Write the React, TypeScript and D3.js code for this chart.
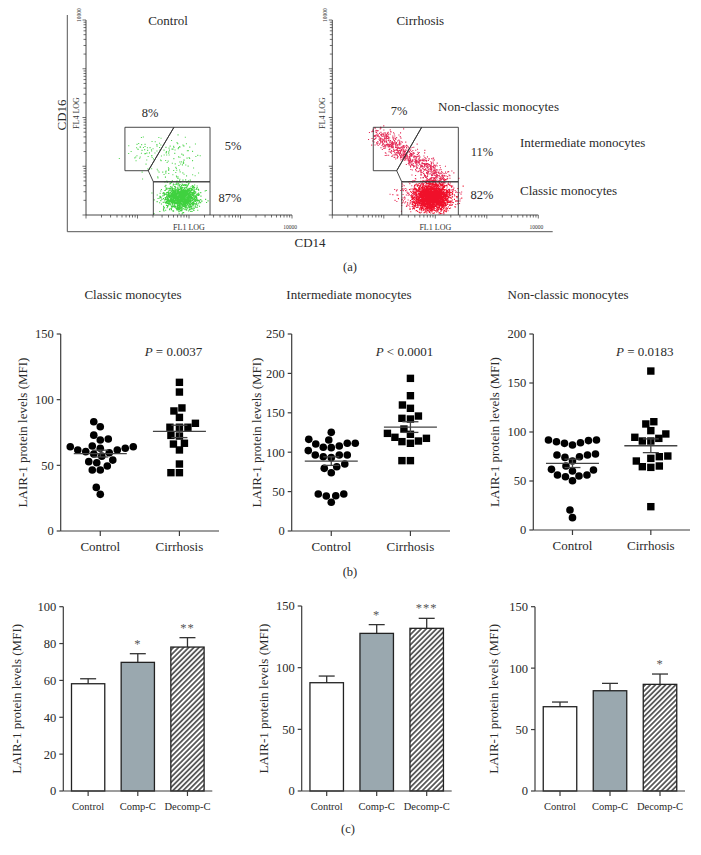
import React, { useMemo } from 'react';
import * as d3 from 'd3';

const SERIF = '"Liberation Serif", "Times New Roman", "DejaVu Serif", serif';
const INK = '#2a2a2a';
const AXIS = '#3c3c3c';

// ---------------- (a) flow cytometry ----------------
// gate vertices (FL1 values): box left, divider top, box right, kink, classic-gate left
const controlGateX = [5.7, 51, 256, 16.2, 20.3];
// gate vertices (FL4 values): top, kink, classic-gate top
const controlGateY = [63, 8.1, 4.8];
const cirrhosisGateX = [6.25, 54.4, 280, 17.8, 22.3];
const cirrhosisGateY = [63, 8.1, 4.8];
const controlPercents = ['8%', '5%', '87%'];
const cirrhosisPercents = ['7%', '11%', '82%'];
const subsetNames = ['Non-classic monocytes', 'Intermediate monocytes', 'Classic monocytes'];

// event clouds, in decades: centre x, centre y, sd x, sd y, count, (optional end of band x2,y2), colour
type Cluster = { x: number; y: number; sx: number; sy: number; n: number; x2?: number; y2?: number; c: string };
const controlClusters: Cluster[] = [
  { x: 1.84, y: 0.37, sx: 0.16, sy: 0.13, n: 1500, c: '#3fd13f' },
  { x: 1.7, y: 1.12, sx: 0.24, sy: 0.25, n: 120, c: '#5ad85a' },
  { x: 1.12, y: 1.3, sx: 0.16, sy: 0.13, n: 50, c: '#5ad85a' },
];
const cirrhosisClusters: Cluster[] = [
  { x: 1.85, y: 0.42, sx: 0.26, sy: 0.18, n: 600, c: '#e8305a' },
  { x: 0.85, y: 1.66, x2: 2.15, y2: 0.74, sx: 0.1, sy: 0.1, n: 850, c: '#e42c58' },
  { x: 1.92, y: 0.37, sx: 0.16, sy: 0.13, n: 2400, c: '#f0102a' },
];

// ---------------- (b) scatter plots ----------------
const scatterGroups = ['Control', 'Cirrhosis'];
const classicControl = [83.2, 79.4, 73, 70, 69.3, 64.7, 64.2, 63, 61.7, 59.6, 57, 58.6, 60.4, 61.7, 63, 64.2, 54, 52, 49.5, 52.8, 46.4, 46.4, 33.2, 27.9];
const classicCirrhosis = [113.2, 105.8, 93.7, 91.4, 86.5, 82, 79, 79, 79, 72.3, 72.8, 66.8, 66.2, 61.7, 51, 44.4, 44.4];
const intermediateControl = [125.2, 116.3, 111.3, 110.4, 107.9, 111.3, 115.5, 105.8, 106.2, 102, 96.4, 96.4, 93.1, 94.3, 96.4, 85, 79.5, 74, 81.6, 47, 44.4, 44.8, 47, 36.4];
const intermediateCirrhosis = [193.7, 171.7, 159.9, 155.7, 145.9, 143, 142.1, 129.4, 122.7, 123.9, 117.6, 118.9, 113.4, 111.3, 114.2, 89.3, 89.3];
const nonClassicControl = [91.8, 90.1, 88.4, 86.7, 89.1, 91.2, 91.8, 77.6, 76.5, 74.1, 74.8, 76.5, 70.4, 65.3, 61.9, 60.2, 56.1, 54.4, 50.3, 55.1, 56.1, 61.2, 20.4, 12.6];
const nonClassicCirrhosis = [162.2, 110.5, 108.2, 98, 101.4, 93.5, 90.8, 90.8, 94.6, 74.8, 70.4, 64.6, 63.9, 65.3, 73.1, 75.5, 23.8];
const subsetTitles = ['Classic monocytes', 'Intermediate monocytes', 'Non-classic monocytes'];
const pValues = ['= 0.0037', '< 0.0001', '= 0.0183'];
const scatterMax = [150, 250, 200];

// ---------------- (c) bar charts ----------------
const barGroups = ['Control', 'Comp-C', 'Decomp-C'];
const classicBarMeans = [58.2, 69.8, 78.1];
const classicBarSem = [2.7, 4.7, 5.1];
const classicStars = ['', '*', '**'];
const intermediateBarMeans = [87.8, 127.8, 131.9];
const intermediateBarSem = [5.4, 7.1, 8.1];
const intermediateStars = ['', '*', '***'];
const nonClassicBarMeans = [68.6, 81.6, 86.8];
const nonClassicBarSem = [3.8, 6.0, 8.4];
const nonClassicStars = ['', '', '*'];
const barMax = [100, 150, 150];
const barStep = [20, 50, 50];

const Y_LABEL = 'LAIR-1 protein levels (MFI)';

function makeDots(clusters: Cluster[], seed: number) {
  const rng = d3.randomLcg(seed);
  const normal = d3.randomNormal.source(rng)(0, 1);
  return clusters.map((c) => {
    const pts: [number, number][] = [];
    for (let i = 0; i < c.n; i++) {
      let bx = c.x, by = c.y;
      if (c.x2 !== undefined && c.y2 !== undefined) {
        const t = rng();
        bx = c.x + (c.x2 - c.x) * t;
        by = c.y + (c.y2 - c.y) * t;
      }
      const lx = bx + normal() * c.sx;
      const ly = by + normal() * c.sy;
      if (lx < 0.03 || ly < 0.03 || lx > 3.97 || ly > 3.97) continue;
      pts.push([Math.pow(10, lx), Math.pow(10, ly)]);
    }
    return { color: c.c, pts };
  });
}

function FlowPlot({ x0, title, gx, gy, clusters, seed, percents, pctPos, labelX }: any) {
  const xs = d3.scaleLog().domain([1, 10000]).range([x0, x0 + 206]);
  const ys = d3.scaleLog().domain([1, 10000]).range([215, 20]);
  const dots = useMemo(() => makeDots(clusters, seed), [clusters, seed]);
  const ticks = xs.ticks();
  const isMajor = (v: number) => Math.abs(Math.log10(v) - Math.round(Math.log10(v))) < 1e-9;
  const [bl, dt, br, kk, cl] = gx;
  const [top, mid, ct] = gy;
  const nonClassic = [[bl, top], [dt, top], [kk, mid], [bl, mid]];
  const inter = [[dt, top], [br, top], [br, ct], [cl, ct], [kk, mid]];
  const classic = [[cl, 1], [cl, ct], [br, ct], [br, 1]];
  const poly = (p: number[][], close = true) =>
    'M' + p.map(([a, b]) => `${xs(a)},${ys(b)}`).join('L') + (close ? 'Z' : '');
  return (
    <g>
      {dots.map((d, i) => (
        <path
          key={i}
          fill={d.color}
          d={d.pts.map(([a, b]) => `M${xs(a).toFixed(1)},${ys(b).toFixed(1)}h1.1v1.1h-1.1z`).join('')}
        />
      ))}
      <g fill="none" stroke="#333" strokeWidth={0.9}>
        <path d={poly(nonClassic)} />
        <path d={poly(inter)} />
        <path d={poly(classic, false)} />
      </g>
      <line x1={x0} x2={x0} y1={ys(10000)} y2={ys(1)} stroke="#333" strokeWidth={0.9} />
      <line x1={x0} x2={x0 + 206} y1={ys(1)} y2={ys(1)} stroke="#333" strokeWidth={0.9} />
      {ticks.map((t, i) => (
        <line key={'xt' + i} x1={xs(t)} x2={xs(t)} y1={ys(1)} y2={ys(1) + (isMajor(t) ? 3.5 : 2.5)} stroke="#333" strokeWidth={0.7} />
      ))}
      {ys.ticks().map((t, i) => (
        <line key={'yt' + i} x1={x0} x2={x0 - (isMajor(t) ? 3.5 : 2.5)} y1={ys(t)} y2={ys(t)} stroke="#333" strokeWidth={0.7} />
      ))}
      <text x={xs(10000) - 2} y={229} fontSize={5.5} textAnchor="middle" fill="#333">10000</text>
      <text transform={`translate(${x0 - 5},${15}) rotate(-90)`} fontSize={5.5} textAnchor="middle" fill="#333">10000</text>
      <text x={x0 + 103} y={230} fontSize={8} textAnchor="middle" fill="#333">FL1 LOG</text>
      <text transform={`translate(${labelX},${113}) rotate(-90)`} fontSize={8} textAnchor="middle" fill="#333">FL4 LOG</text>
      <text x={x0 + (title === 'Control' ? 82 : 88)} y={25} fontSize={13} textAnchor="middle" fill={INK}>{title}</text>
      {percents.map((p: string, i: number) => (
        <text key={p} x={pctPos[i][0]} y={pctPos[i][1]} fontSize={12.5} textAnchor="middle" fill={INK}>{p}</text>
      ))}
    </g>
  );
}

function swarm(values: number[], ys: (v: number) => number, cx: number, minDist: number) {
  const order = values.map((_, i) => i).sort((a, b) => values[a] - values[b]);
  const placed: [number, number][] = [];
  const out: [number, number][] = new Array(values.length);
  for (const i of order) {
    const py = ys(values[i]);
    let px = cx;
    for (let k = 0; k < 200; k++) {
      const off = (k % 2 === 0 ? 1 : -1) * Math.ceil(k / 2) * 0.5;
      const cand = cx + off;
      if (placed.every((p) => (p[0] - cand) ** 2 + (p[1] - py) ** 2 >= minDist * minDist)) {
        px = cand;
        break;
      }
    }
    placed.push([px, py]);
    out[i] = [px, py];
  }
  return out;
}

function Scatter({ x0, len, yBottom, yTop, max, control, cirrhosis, p, labelX, title, titleX }: any) {
  const y = d3.scaleLinear().domain([0, max]).range([yBottom, yTop]);
  const x = d3.scalePoint().domain(scatterGroups).range([x0, x0 + len]).padding(0.5);
  const ticks = d3.range(0, max + 1, 50);
  const cC = x('Control')!;
  const cZ = x('Cirrhosis')!;
  const ctrlPts = swarm(control, y, cC, 8.0);
  const cirPts = swarm(cirrhosis, y, cZ, 8.2);
  const stats = (v: number[]) => {
    const m = d3.mean(v)!;
    const s = d3.deviation(v)! / Math.sqrt(v.length);
    return [m, s];
  };
  const summary = [
    [cC, ...stats(control)],
    [cZ, ...stats(cirrhosis)],
  ];
  const mid = (yBottom + yTop) / 2;
  return (
    <g fontFamily={SERIF}>
      <text x={titleX} y={299} fontSize={13} textAnchor="middle" fill={INK}>{title}</text>
      <line x1={x0} x2={x0} y1={yBottom} y2={yTop} stroke={AXIS} strokeWidth={1.2} />
      <line x1={x0} x2={x0 + len} y1={yBottom} y2={yBottom} stroke={AXIS} strokeWidth={1.2} />
      {ticks.map((t) => (
        <g key={t}>
          <line x1={x0 - 4} x2={x0} y1={y(t)} y2={y(t)} stroke={AXIS} strokeWidth={1.2} />
          <text x={x0 - 7} y={y(t)} dy="0.35em" fontSize={12.5} textAnchor="end" fill={INK}>{t}</text>
        </g>
      ))}
      {scatterGroups.map((g) => (
        <g key={g}>
          <line x1={x(g)!} x2={x(g)!} y1={yBottom} y2={yBottom + 5} stroke={AXIS} strokeWidth={1.2} />
          <text x={x(g)!} y={yBottom + 20} fontSize={13} textAnchor="middle" fill={INK}>{g}</text>
        </g>
      ))}
      <text transform={`translate(${labelX},${mid}) rotate(-90)`} dy="0.35em" fontSize={13} textAnchor="middle" fill={INK}>{Y_LABEL}</text>
      {ctrlPts.map(([px, py], i) => (
        <circle key={'c' + i} cx={px} cy={py} r={3.8} fill="#000" />
      ))}
      {cirPts.map(([px, py], i) => (
        <rect key={'s' + i} x={px - 3.7} y={py - 3.7} width={7.4} height={7.4} fill="#000" />
      ))}
      {summary.map(([cx, m, s], i) => (
        <g key={'m' + i} stroke="#444" strokeWidth={1.3}>
          <line x1={cx - 26.5} x2={cx + 26.5} y1={y(m)} y2={y(m)} />
          <line x1={cx} x2={cx} y1={y(m - s)} y2={y(m + s)} />
          <line x1={cx - 8} x2={cx + 8} y1={y(m - s)} y2={y(m - s)} />
          <line x1={cx - 8} x2={cx + 8} y1={y(m + s)} y2={y(m + s)} />
        </g>
      ))}
      <text x={cZ - 6} y={356} fontSize={13} textAnchor="middle" fill={INK}>
        <tspan fontStyle="italic">P</tspan> {p}
      </text>
    </g>
  );
}

function Bars({ id, x0, len, yBottom, yTop, max, step, means, sems, stars, labelX }: any) {
  const y = d3.scaleLinear().domain([0, max]).range([yBottom, yTop]);
  const x = d3.scaleBand().domain(barGroups).range([x0, x0 + len]).paddingInner(0.33).paddingOuter(0.165);
  const ticks = d3.range(0, max + 1, step);
  const fills = ['#ffffff', '#9aa8af', `url(#hatch${id})`];
  const mid = (yBottom + yTop) / 2;
  return (
    <g fontFamily={SERIF}>
      <defs>
        <pattern id={`hatch${id}`} patternUnits="userSpaceOnUse" width={3.6} height={3.6} patternTransform="rotate(45)">
          <rect width={3.6} height={3.6} fill="#fff" />
          <line x1={0.9} y1={0} x2={0.9} y2={3.6} stroke="#1a1a1a" strokeWidth={1.3} />
        </pattern>
      </defs>
      {barGroups.map((g, i) => {
        const bx = x(g)!;
        const bw = x.bandwidth();
        const cx = bx + bw / 2;
        const top = y(means[i] + sems[i]);
        return (
          <g key={g}>
            <line x1={cx} x2={cx} y1={y(means[i])} y2={top} stroke="#333" strokeWidth={1.3} />
            <line x1={cx - 8} x2={cx + 8} y1={top} y2={top} stroke="#333" strokeWidth={1.3} />
            <rect x={bx} y={y(means[i])} width={bw} height={yBottom - y(means[i])} fill={fills[i]} stroke="#222" strokeWidth={1.3} />
            {stars[i] && (
              <text x={cx} y={top - 6} fontSize={12.5} textAnchor="middle" fill="#555" letterSpacing={1}>{stars[i]}</text>
            )}
            <line x1={cx} x2={cx} y1={yBottom} y2={yBottom + 5} stroke={AXIS} strokeWidth={1.2} />
            <text x={cx} y={yBottom + 19} fontSize={10.5} textAnchor="middle" fill={INK}>{g}</text>
          </g>
        );
      })}
      <line x1={x0} x2={x0} y1={yBottom} y2={yTop} stroke={AXIS} strokeWidth={1.2} />
      <line x1={x0} x2={x0 + len} y1={yBottom} y2={yBottom} stroke={AXIS} strokeWidth={1.2} />
      {ticks.map((t) => (
        <g key={t}>
          <line x1={x0 - 4} x2={x0} y1={y(t)} y2={y(t)} stroke={AXIS} strokeWidth={1.2} />
          <text x={x0 - 7} y={y(t)} dy="0.35em" fontSize={12.5} textAnchor="end" fill={INK}>{t}</text>
        </g>
      ))}
      <text transform={`translate(${labelX},${mid}) rotate(-90)`} dy="0.35em" fontSize={13} textAnchor="middle" fill={INK}>{Y_LABEL}</text>
    </g>
  );
}

export default function App() {
  return (
    <svg width={701} height={855} style={{ position: 'absolute', left: 0, top: 0, background: '#fff' }} fontFamily={SERIF}>
      <rect width={701} height={855} fill="#fff" />
      {/* (a) */}
      <g fontFamily={SERIF}>
        <line x1={67.3} x2={67.3} y1={15} y2={231.7} stroke="#555" strokeWidth={1} />
        <line x1={67.3} x2={552.7} y1={231.7} y2={231.7} stroke="#555" strokeWidth={1} />
        <text transform="translate(61,115) rotate(-90)" dy="0.35em" fontSize={13} textAnchor="middle" fill={INK}>CD16</text>
        <text x={310} y={247} fontSize={13} textAnchor="middle" fill={INK}>CD14</text>
        <FlowPlot
          x0={86}
          title="Control"
          gx={controlGateX}
          gy={controlGateY}
          clusters={controlClusters}
          seed={7}
          percents={controlPercents}
          pctPos={[[150, 117], [233, 150], [230, 202]]}
          labelX={79}
        />
        <FlowPlot
          x0={332.3}
          title="Cirrhosis"
          gx={cirrhosisGateX}
          gy={cirrhosisGateY}
          clusters={cirrhosisClusters}
          seed={11}
          percents={cirrhosisPercents}
          pctPos={[[399, 115], [482, 156], [482, 199]]}
          labelX={325}
        />
        <text x={438} y={111} fontSize={13} fill={INK}>{subsetNames[0]}</text>
        <text x={520} y={147} fontSize={13} fill={INK}>{subsetNames[1]}</text>
        <text x={520} y={195} fontSize={13} fill={INK}>{subsetNames[2]}</text>
        <text x={350} y={271} fontSize={12.5} textAnchor="middle" fill={INK}>(a)</text>
      </g>

      {/* (b) */}
      <Scatter x0={60.7} len={158.3} yBottom={531} yTop={334} max={scatterMax[0]} control={classicControl} cirrhosis={classicCirrhosis} p={pValues[0]} labelX={22} title={subsetTitles[0]} titleX={133} />
      <Scatter x0={291.7} len={158.3} yBottom={531} yTop={334} max={scatterMax[1]} control={intermediateControl} cirrhosis={intermediateCirrhosis} p={pValues[1]} labelX={256} title={subsetTitles[1]} titleX={349} />
      <Scatter x0={533.3} len={156.7} yBottom={530} yTop={334} max={scatterMax[2]} control={nonClassicControl} cirrhosis={nonClassicCirrhosis} p={pValues[2]} labelX={494} title={subsetTitles[2]} titleX={568} />
      <text x={350} y={576} fontSize={12.5} textAnchor="middle" fill={INK} fontFamily={SERIF}>(b)</text>

      {/* (c) */}
      <Bars id={1} x0={63.3} len={149} yBottom={791} yTop={606.7} max={barMax[0]} step={barStep[0]} means={classicBarMeans} sems={classicBarSem} stars={classicStars} labelX={16} />
      <Bars id={2} x0={301.7} len={150} yBottom={791} yTop={606} max={barMax[1]} step={barStep[1]} means={intermediateBarMeans} sems={intermediateBarSem} stars={intermediateStars} labelX={263} />
      <Bars id={3} x0={535} len={150} yBottom={791} yTop={606.7} max={barMax[2]} step={barStep[2]} means={nonClassicBarMeans} sems={nonClassicBarSem} stars={nonClassicStars} labelX={493} />
      <text x={348} y={833} fontSize={12.5} textAnchor="middle" fill={INK} fontFamily={SERIF}>(c)</text>
    </svg>
  );
}
